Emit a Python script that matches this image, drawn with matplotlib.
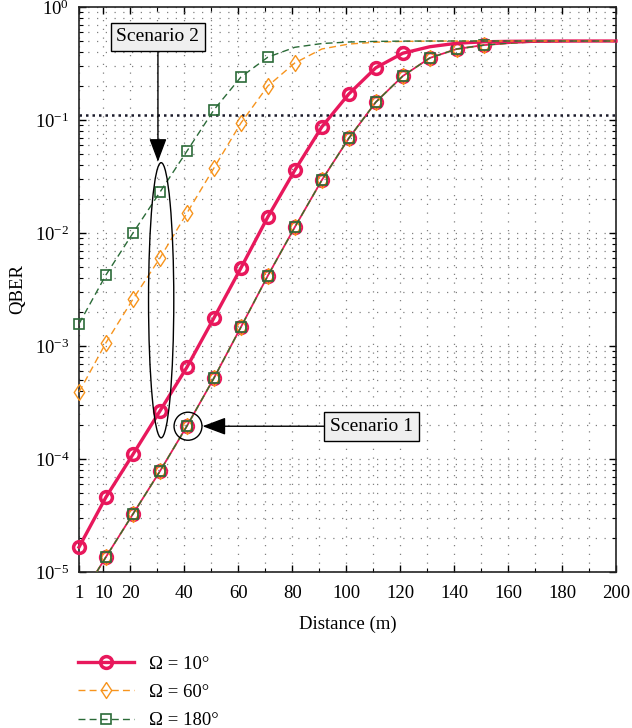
import numpy as np
import matplotlib
matplotlib.use("Agg")
import matplotlib.pyplot as plt
from matplotlib.patches import Ellipse
from matplotlib.ticker import FixedLocator, LogLocator, NullFormatter

plt.rcParams['font.family'] = ['Liberation Serif', 'DejaVu Serif']
plt.rcParams['mathtext.fontset'] = 'custom'
plt.rcParams['mathtext.rm'] = 'Liberation Serif'
plt.rcParams['mathtext.it'] = 'Liberation Serif:italic'

# ---------------- data ----------------
distance = [1, 11, 21, 31, 41, 51, 61, 71, 81, 91, 101, 111, 121, 131, 141,
            151, 161, 171, 181, 191, 200]

# Scenario 2 (curves differ with Omega)
s2_omega10 = [1.66e-5, 4.6e-5, 1.1e-4, 2.66e-4, 6.5e-4, 1.77e-3, 4.9e-3, 1.39e-2,
              3.6e-2, 8.7e-2, 0.17, 0.29, 0.39, 0.445, 0.478, 0.492, 0.497,
              0.499, 0.5, 0.5, 0.5]
s2_omega60 = [3.9e-4, 1.07e-3, 2.6e-3, 6.0e-3, 1.5e-2, 3.76e-2, 9.4e-2, 0.2,
              0.32, 0.425, 0.47, 0.488, 0.496, 0.499, 0.5, 0.5, 0.5, 0.5, 0.5,
              0.5, 0.5]
s2_omega180 = [1.57e-3, 4.26e-3, 1.0e-2, 2.3e-2, 5.3e-2, 0.123, 0.24, 0.36,
               0.44, 0.475, 0.49, 0.496, 0.499, 0.5, 0.5, 0.5, 0.5, 0.5, 0.5,
               0.5, 0.5]
# Scenario 1 (all Omega coincide)
s1_all = [5.6e-6, 1.36e-5, 3.26e-5, 7.8e-5, 1.96e-4, 5.2e-4, 1.47e-3, 4.2e-3,
          1.13e-2, 2.94e-2, 6.9e-2, 0.144, 0.245, 0.354, 0.425, 0.46, 0.48,
          0.492, 0.497, 0.499, 0.5]

threshold = 0.11
x_ticks = [1, 10, 20, 40, 60, 80, 100, 120, 140, 160, 180, 200]
labels = ['Ω = 10°', 'Ω = 60°', 'Ω = 180°']

pink = '#E8185C'
orange = '#F7941D'
green = '#2B6B38'

fig = plt.figure(figsize=(6.32, 7.28), dpi=100)
ax = fig.add_axes([79/632, 1-572/728, 537/632, 565/728])

ax.set_xlim(1, 200)
ax.set_ylim(1e-5, 1)
ax.set_yscale('log')

# grid
ax.set_xticks(x_ticks)
ax.xaxis.set_minor_locator(FixedLocator([30, 50, 70, 90, 110, 130, 150, 170, 190]))
ax.yaxis.set_minor_locator(LogLocator(base=10, subs=np.arange(2, 10)))
ax.yaxis.set_minor_formatter(NullFormatter())
ax.grid(True, which='both', linestyle=(0, (1, 6)), color='#808080', linewidth=0.9)
ax.set_axisbelow(True)

# threshold line
ax.axhline(threshold, color='#1a1a2a', linestyle=(0, (1, 1.6)), linewidth=1.8, zorder=2)

msq = 6.5
mdi = 11.5
mci = 8.5
diamond = [(0, 1), (0.66, 0), (0, -1), (-0.66, 0), (0, 1)]

# Scenario 1 curves (overlapping)
ax.plot(distance, s1_all, color=pink, lw=1.3, marker='o', ms=mci, mew=2.5,
        mfc='none', markevery=list(range(1, 16)), zorder=3)
ax.plot(distance, s1_all, color=orange, lw=1.0, ls=(0, (5, 3)), marker=diamond, ms=mdi,
        mew=1.0, mfc='none', markevery=list(range(1, 16)), zorder=4)
ax.plot(distance, s1_all, color=green, lw=1.0, ls=(0, (5, 3)), marker='s', ms=msq,
        mew=1.2, mfc='none', markevery=list(range(1, 16)), zorder=5)

# Scenario 2 curves
l1, = ax.plot(distance, s2_omega10, color=pink, lw=2.4, marker='o', ms=mci, mew=2.5,
              mfc='none', markevery=list(range(0, 13)), clip_on=False, zorder=6)
l2, = ax.plot(distance, s2_omega60, color=orange, lw=1.0, ls=(0, (5, 3)), marker=diamond,
              ms=mdi, mew=1.0, mfc='none', markevery=list(range(0, 9)), clip_on=False, zorder=6)
l3, = ax.plot(distance, s2_omega180, color=green, lw=1.0, ls=(0, (5, 3)), marker='s',
              ms=msq, mew=1.2, mfc='none', markevery=list(range(0, 8)), clip_on=False, zorder=6)

# ticks
ax.tick_params(which='both', direction='in', top=True, right=True, labelsize=13.5)
ax.tick_params(which='major', length=5, width=1)
ax.tick_params(which='minor', length=3, width=0.8)
ax.tick_params(axis='x', which='major', pad=9)
ax.tick_params(axis='y', which='major', pad=7)
for s in ax.spines.values():
    s.set_linewidth(1.2)
    s.set_color('#222222')

ax.set_xlabel('Distance (m)', fontsize=13.5, labelpad=10)
ax.set_ylabel('QBER', fontsize=13.5, labelpad=6)

# annotations
ax.add_patch(Ellipse((0.153, 0.481), 0.047, 0.487, transform=ax.transAxes,
                     fill=False, ec='black', lw=1.0, zorder=7))
ax.add_patch(Ellipse((0.203, 0.258), 0.052, 0.0496, transform=ax.transAxes,
                     fill=False, ec='black', lw=1.0, zorder=7))

arrow = dict(arrowstyle='-|>,head_length=0.8,head_width=0.3', color='black',
             lw=1.0, mutation_scale=18, shrinkA=0, shrinkB=0)
box = dict(boxstyle='square,pad=0.3', fc='#efefef', ec='black', lw=1.0)
ax.annotate('Scenario 2', xy=(0.147, 0.726), xycoords='axes fraction',
            xytext=(0.147, 0.947), textcoords='axes fraction', ha='center',
            va='center', fontsize=14, bbox=box, arrowprops=arrow, zorder=8)
ax.annotate('Scenario 1', xy=(0.230, 0.258), xycoords='axes fraction',
            xytext=(0.545, 0.258), textcoords='axes fraction', ha='center',
            va='center', fontsize=14, bbox=box, arrowprops=arrow, zorder=8)

fig.legend([l1, l2, l3], labels, loc='upper left', bbox_to_anchor=(70/632, 1-648/728),
           frameon=False, fontsize=13.5, handlelength=3.0, numpoints=1,
           labelspacing=0.6, handletextpad=0.8, borderaxespad=0)

fig.savefig('out.png', dpi=100)
